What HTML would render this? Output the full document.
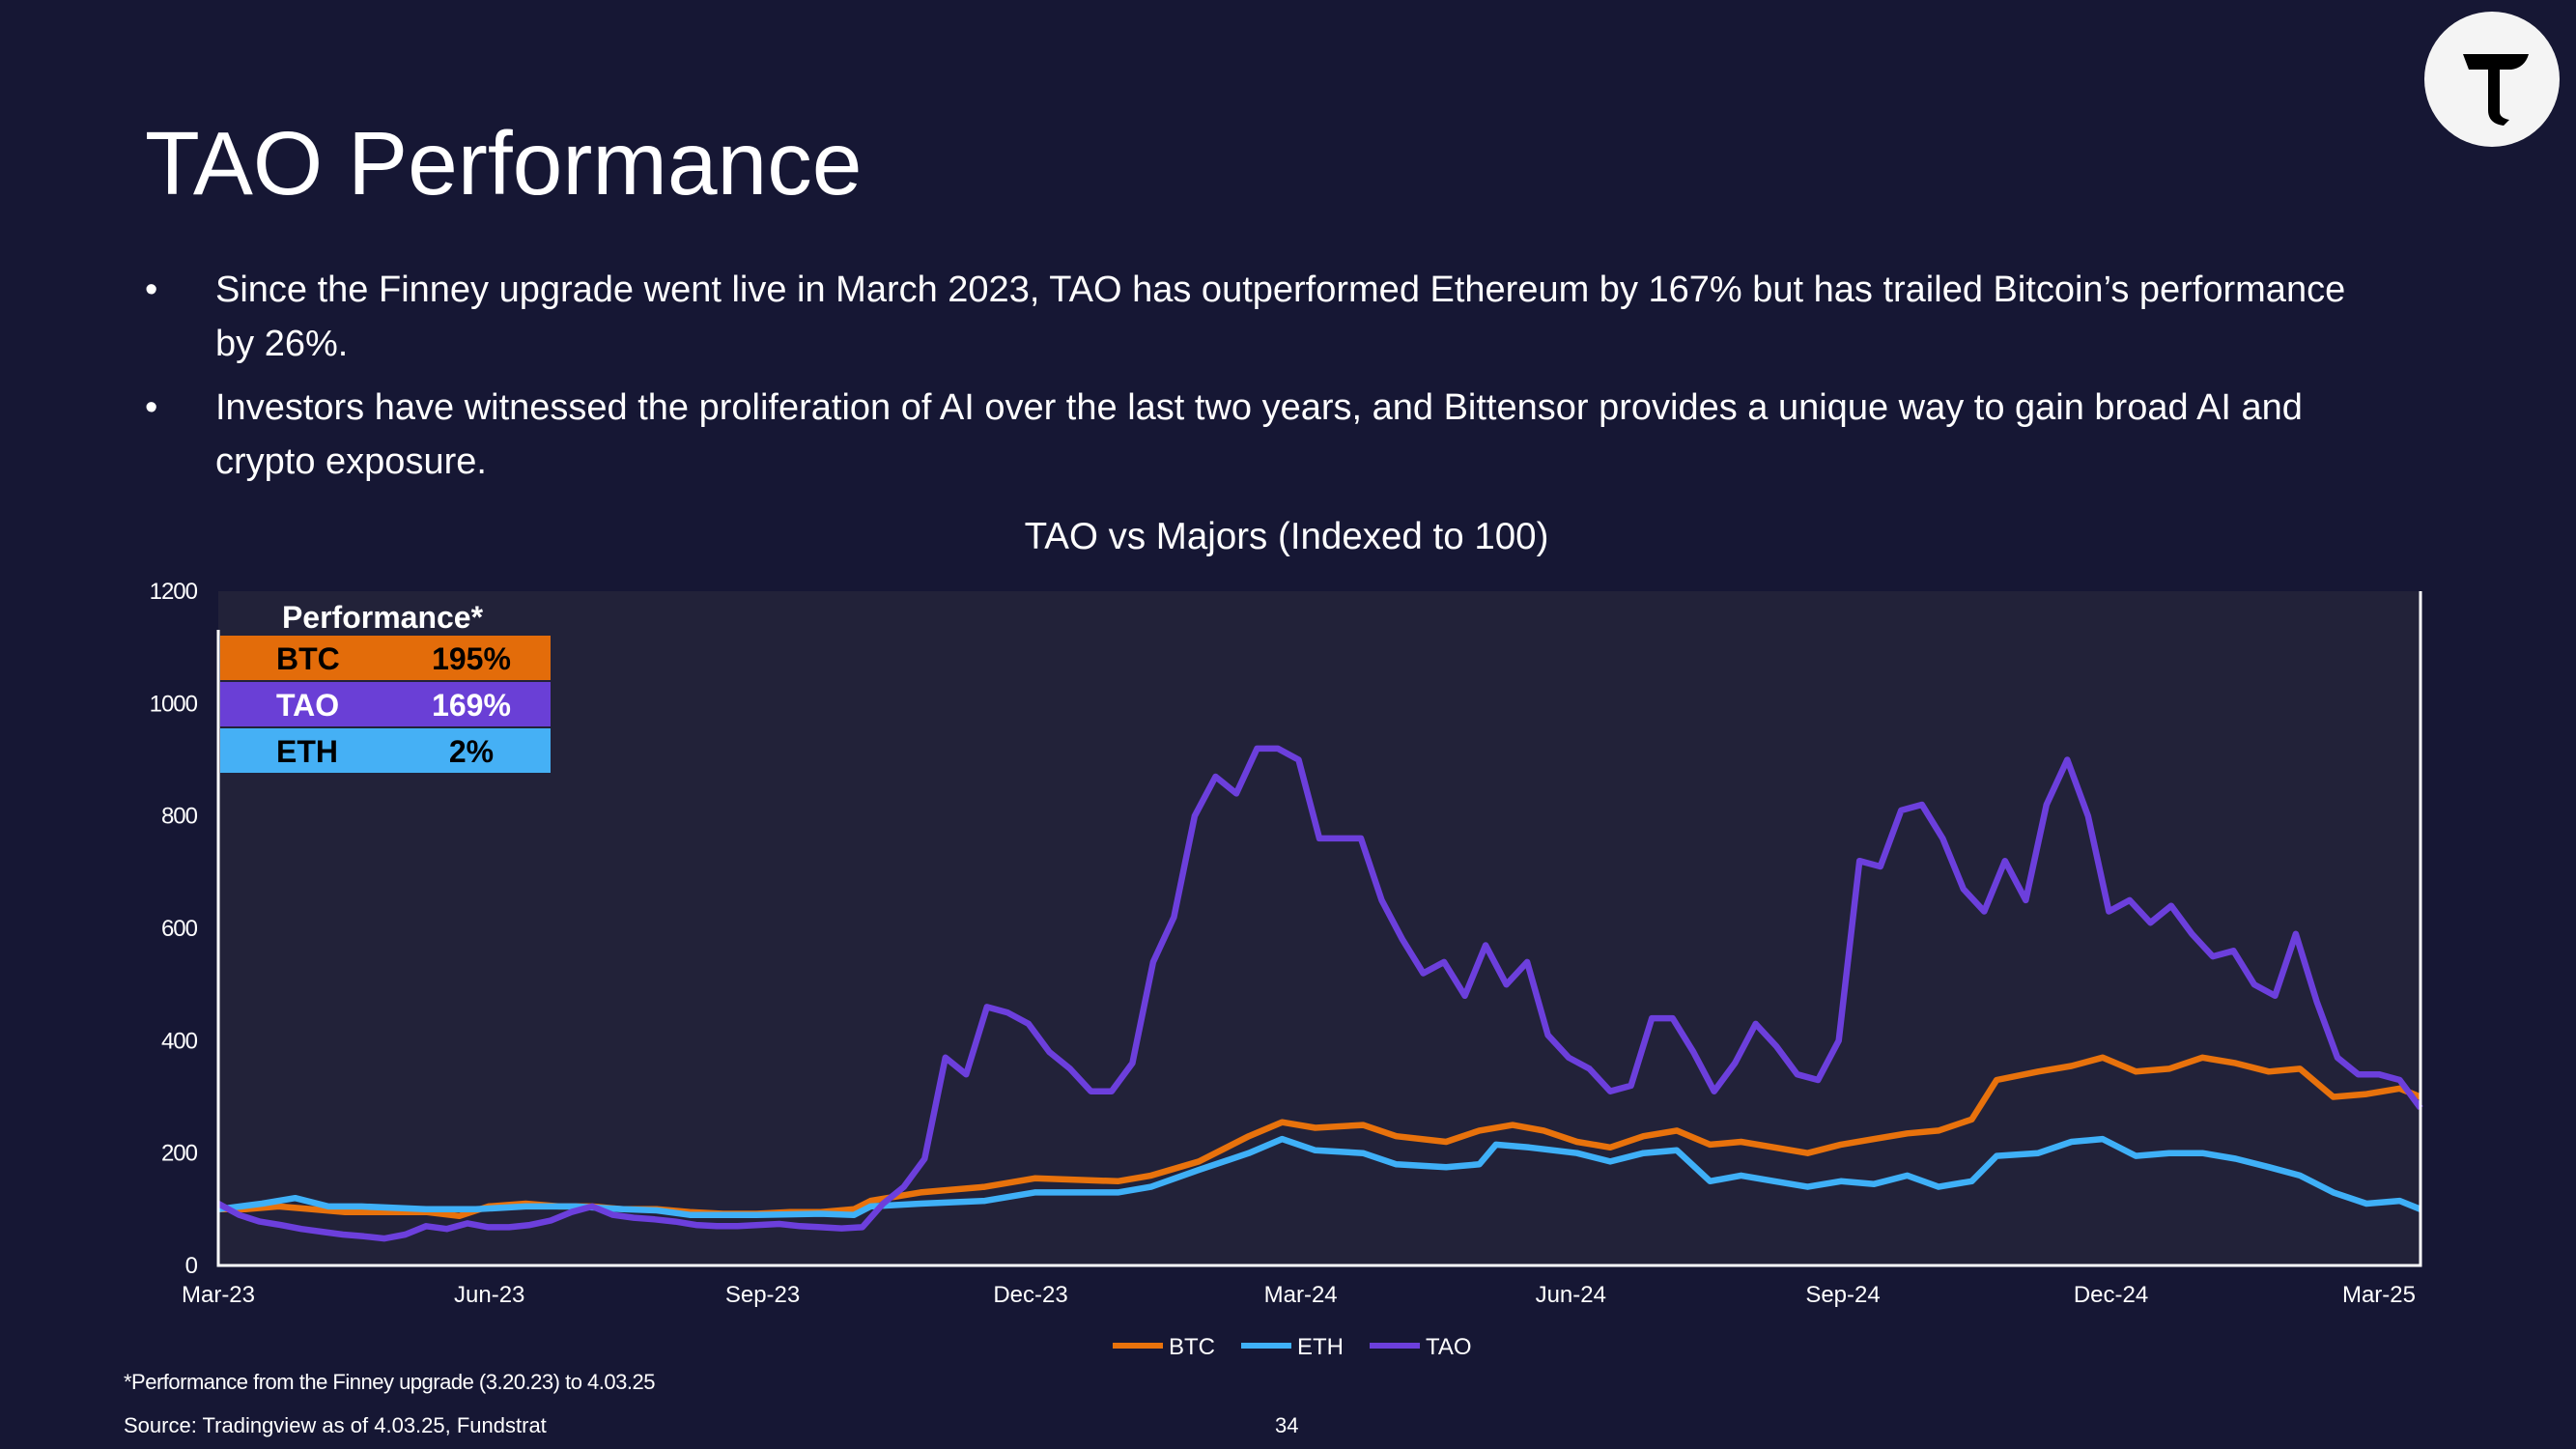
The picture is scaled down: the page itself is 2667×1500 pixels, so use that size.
<!DOCTYPE html>
<html><head><meta charset="utf-8"><style>
html,body{margin:0;padding:0;background:#161734;}
#page{position:relative;width:2667px;height:1500px;overflow:hidden;background:#161734;font-family:"Liberation Sans",Arial,sans-serif;color:#fff;}
.t{position:absolute;white-space:nowrap;}
</style></head><body>
<div id="page">
<div class="t" style="left:150px;top:116px;font-size:93px;">TAO Performance</div>
<svg style="position:absolute;left:2508px;top:12px" width="144" height="144"><circle cx="72" cy="70" r="70" fill="#f4f4f4"/><path d="M42 44 L110 44 Q106 58 92 60 L80 60 L80 104 Q80 110 90 112 L84 118 Q68 116 68 102 L68 60 L48 60 Z" fill="#000"/></svg>
<div style="position:absolute;left:150px;top:272px;width:2310px;font-size:38px;line-height:56px;">
<div style="position:relative;padding-left:73px;">
<span style="position:absolute;left:0">•</span>Since the Finney upgrade went live in March 2023, TAO has outperformed Ethereum by 167% but has trailed Bitcoin’s performance by 26%.</div>
<div style="position:relative;padding-left:73px;margin-top:10px;">
<span style="position:absolute;left:0">•</span>Investors have witnessed the proliferation of AI over the last two years, and Bittensor provides a unique way to gain broad AI and crypto exposure.</div>
</div>
<svg id="chart" style="position:absolute;left:0;top:0" width="2667" height="1500"></svg>
<div class="t" style="left:128px;top:1418px;font-size:22px;letter-spacing:-0.5px;">*Performance from the Finney upgrade (3.20.23) to 4.03.25</div>
<div class="t" style="left:128px;top:1463px;font-size:22px;">Source: Tradingview as of 4.03.25, Fundstrat</div>
<div class="t" style="left:1320px;top:1463px;font-size:22px;">34</div>
</div>
<script>
const yTicks=[0,200,400,600,800,1000,1200];
const xTickLabels=["Mar-23","Jun-23","Sep-23","Dec-23","Mar-24","Jun-24","Sep-24","Dec-24","Mar-25"];
const xTickWeeks=[0,13.05,26.2,39.1,52.1,65.1,78.2,91.1,104.0];
const taoWeeks=[0,1,2,3,4,5,6,7,8,9,10,11,12,13,14,15,16,17,18,19,20,21,22,23,24,25,26,27,28,29,30,31,32,33,34,35,36,37,38,39,40,41,42,43,44,45,46,47,48,49,50,51,52,53,54,55,56,57,58,59,60,61,62,63,64,65,66,67,68,69,70,71,72,73,74,75,76,77,78,79,80,81,82,83,84,85,86,87,88,89,90,91,92,93,94,95,96,97,98,99,100,101,102,103,104,105,106];
const taoValues=[110,90,78,72,65,60,55,52,48,55,70,65,75,68,68,72,80,95,105,90,85,82,78,72,70,70,72,74,70,68,66,68,110,140,190,370,340,460,450,430,380,350,310,310,360,540,620,800,870,840,920,920,900,760,760,760,650,580,520,540,480,570,500,540,410,370,350,310,320,440,440,380,310,360,430,390,340,330,400,720,710,810,820,760,670,630,720,650,820,900,800,630,650,610,640,590,550,560,500,480,590,470,370,340,340,330,280];
const btcWeeks=[0,1.3,2.9,4.5,6.1,8.5,10.0,11.6,13.0,14.8,16.4,18.0,19.5,21.1,22.7,24.3,25.9,27.5,29.0,30.6,31.4,33.8,36.9,39.3,43.3,44.9,47.2,49.6,51.2,52.8,55.1,56.7,59.1,60.7,62.3,63.8,65.4,67.0,68.6,70.2,71.8,73.3,74.9,76.5,78.1,79.7,81.3,82.8,84.4,85.6,87.6,89.2,90.7,92.3,93.9,95.5,97.1,98.7,100.2,101.8,103.4,105.0,106.0];
const btcValues=[100,100,105,100,95,95,95,88,105,110,105,105,100,100,95,92,92,95,95,100,115,130,140,155,150,160,185,230,255,245,250,230,220,240,250,240,220,210,230,240,215,220,210,200,215,225,235,240,260,330,345,355,370,345,350,370,360,345,350,300,305,315,300];
const ethWeeks=[0,2.1,3.7,5.3,6.9,10.0,12.4,14.8,17.2,19.5,21.1,22.7,25.9,29.0,30.6,31.4,33.8,36.9,39.3,43.3,44.9,47.2,49.6,51.2,52.8,55.1,56.7,59.1,60.7,61.5,63.1,65.4,67.0,68.6,70.2,71.8,73.3,74.9,76.5,78.1,79.7,81.3,82.8,84.4,85.6,87.6,89.2,90.7,92.3,93.9,95.5,97.1,98.7,100.2,101.8,103.4,105.0,106.0];
const ethValues=[100,110,120,105,105,100,100,105,105,100,98,90,90,92,90,105,110,115,130,130,140,170,200,225,205,200,180,175,180,215,210,200,185,200,205,150,160,150,140,150,145,160,140,150,195,200,220,225,195,200,200,190,175,160,130,110,115,100];
const legendNames=["BTC","ETH","TAO"];
const perfNames=["BTC","TAO","ETH"];
const perfValues=["195%","169%","2%"];

const NS="http://www.w3.org/2000/svg";
const svg=document.getElementById('chart');
const L=226,R=2506,T=612,B=1310,WMAX=106,YMAX=1200;
const xs=w=>L+w*(R-L)/WMAX;
const ys=v=>B-v*(B-T)/YMAX;
function mk(tag,attrs,parent){const e=document.createElementNS(NS,tag);for(const k in attrs)e.setAttribute(k,attrs[k]);(parent||svg).appendChild(e);return e;}

const title=mk('text',{x:1332,y:568,'text-anchor':'middle','font-size':38.5,fill:'#fff','font-family':'Liberation Sans, sans-serif'});
title.textContent='TAO vs Majors (Indexed to 100)';



const bg=mk('rect',{x:L,y:T,width:R-L,height:B-T,fill:'#222239'});



yTicks.forEach(v=>{const t=mk('text',{x:204,y:ys(v)+8,'text-anchor':'end','font-size':24,fill:'#fff','font-family':'Liberation Sans, sans-serif','letter-spacing':'-1'});t.textContent=v;

});
xTickLabels.forEach((lb,i)=>{const t=mk('text',{x:xs(xTickWeeks[i]),y:1348,'text-anchor':'middle','font-size':24,fill:'#fff','font-family':'Liberation Sans, sans-serif'});t.textContent=lb;

});

const colors={BTC:'#e8720c',ETH:'#3fb0f7',TAO:'#6c3fdc'};
function series(name,weeks,vals){const d=weeks.map((w,i)=>(i?'L':'M')+xs(w).toFixed(1)+' '+ys(vals[i]).toFixed(1)).join(' ');
const p=mk('path',{d:d,fill:'none',stroke:colors[name],'stroke-width':6.5,'stroke-linejoin':'round'});

}
series('BTC',btcWeeks,btcValues);
series('ETH',ethWeeks,ethValues);
series('TAO',taoWeeks,taoValues);

const ax=mk('path',{d:`M${L} ${T+40} L${L} ${B} L${R} ${B} L${R} ${T}`,fill:'none',stroke:'#fff','stroke-width':3});



const ph=mk('text',{x:396,y:650,'text-anchor':'middle','font-size':32,'font-weight':'bold',fill:'#fff','font-family':'Liberation Sans, sans-serif'});ph.textContent='Performance*';


perfNames.forEach((n,i)=>{const y0=658+i*48;
const r=mk('rect',{x:228,y:y0,width:342,height:46,fill:n==='BTC'?'#e36c0a':n==='TAO'?'#6a3fd6':'#45b0f5'});


const a=mk('text',{x:286,y:y0+35,'font-size':32,'font-weight':'bold',fill:n==='TAO'?'#fff':'#000','font-family':'Liberation Sans, sans-serif'});a.textContent=n;


const b=mk('text',{x:488,y:y0+35,'text-anchor':'middle','font-size':32,'font-weight':'bold',fill:n==='TAO'?'#fff':'#000','font-family':'Liberation Sans, sans-serif'});b.textContent=perfValues[i];

});

const lgX=[1152,1285,1418];
legendNames.forEach((n,i)=>{const g=mk('g',{});


mk('line',{x1:lgX[i],y1:1393,x2:lgX[i]+52,y2:1393,stroke:colors[n],'stroke-width':6},g);
const t=mk('text',{x:lgX[i]+58,y:1402,'font-size':24,fill:'#fff','font-family':'Liberation Sans, sans-serif'},g);t.textContent=n;});
</script>
</body></html>
